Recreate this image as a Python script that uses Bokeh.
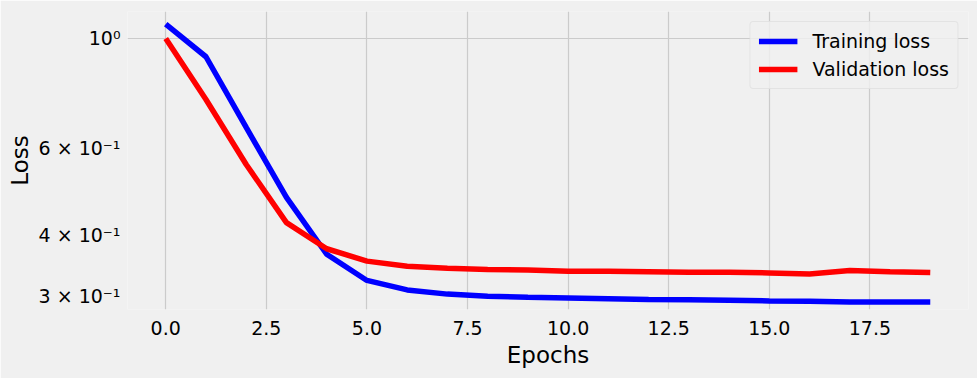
from bokeh.plotting import figure
from bokeh.models import FixedTicker, CustomJSTickFormatter, PrintfTickFormatter, Range1d, Legend, LegendItem
from bokeh.embed import file_html
from bokeh.resources import INLINE

epochs = list(range(20))
training_loss = [1.069, 0.918, 0.660, 0.476, 0.365, 0.323, 0.309, 0.303, 0.300, 0.2985,
                 0.2975, 0.2965, 0.2955, 0.295, 0.2945, 0.2935, 0.2930, 0.2920, 0.2922, 0.2920]
validation_loss = [1.000, 0.752, 0.555, 0.423, 0.3745, 0.3535, 0.345, 0.342, 0.340, 0.339,
                   0.337, 0.337, 0.3365, 0.3355, 0.3355, 0.3345, 0.333, 0.3385, 0.3365, 0.335]
x_ticks = [0, 2.5, 5, 7.5, 10, 12.5, 15, 17.5]
y_ticks = [0.3, 0.4, 0.6, 1.0]
y_tick_labels = ["3 × 10⁻¹", "4 × 10⁻¹", "6 × 10⁻¹", "10⁰"]

BG = "#f0f0f0"
FONT = "DejaVu Sans"

p = figure(width=977, height=378, output_backend="svg", toolbar_location=None,
           y_axis_type="log", frame_width=841, frame_height=298,
           x_range=Range1d(-0.95, 19.95), y_range=Range1d(0.282, 1.134),
           min_border_left=127, min_border_top=11, min_border_right=9, min_border_bottom=69)
p.background_fill_color = BG
p.border_fill_color = BG
p.outline_line_color = None

r1 = p.line(epochs, training_loss, line_color="blue", line_width=5.5)
r2 = p.line(epochs, validation_loss, line_color="red", line_width=5.5)

p.xaxis.ticker = FixedTicker(ticks=x_ticks)
p.xaxis.formatter = PrintfTickFormatter(format="%.1f")
p.yaxis.ticker = FixedTicker(ticks=y_ticks)
mapping = ", ".join(f'"{t:.1f}": "{l}"' for t, l in zip(y_ticks, y_tick_labels))
p.yaxis.formatter = CustomJSTickFormatter(code="const m = {" + mapping + "}; return m[tick.toFixed(1)] || '';")

for ax in (p.xaxis, p.yaxis):
    ax.axis_line_color = None
    ax.major_tick_line_color = None
    ax.minor_tick_line_color = None
    ax.major_tick_out = 0
    ax.major_tick_in = 0
    ax.minor_tick_out = 0
    ax.minor_tick_in = 0
    ax.major_label_text_font = FONT
    ax.major_label_text_font_size = "19px"
    ax.major_label_text_color = "black"
    ax.axis_label_text_font = FONT
    ax.axis_label_text_font_size = "23px"
    ax.axis_label_text_font_style = "normal"
    ax.axis_label_text_color = "black"

p.xaxis.axis_label = "Epochs"
p.yaxis.axis_label = "Loss"
p.xaxis.major_label_standoff = 11
p.yaxis.major_label_standoff = 7
p.xaxis.axis_label_standoff = 4
p.yaxis.axis_label_standoff = 3

p.xgrid.ticker = FixedTicker(ticks=x_ticks)
p.ygrid.ticker = FixedTicker(ticks=[1.0])
p.grid.grid_line_color = "#cbcbcb"
p.grid.grid_line_width = 1.2

legend = Legend(items=[LegendItem(label="Training loss", renderers=[r1]),
                       LegendItem(label="Validation loss", renderers=[r2])],
                location="top_right")
legend.label_text_font = FONT
legend.label_text_font_size = "19px"
legend.label_text_color = "black"
legend.glyph_width = 39
legend.glyph_height = 20
legend.label_height = 20
legend.label_standoff = 15
legend.spacing = 6
legend.padding = 8
legend.margin = 10
legend.background_fill_color = BG
legend.background_fill_alpha = 0.8
legend.border_line_color = "#d6d6d6"
legend.border_line_width = 1
legend.border_radius = 4
p.add_layout(legend)

open("out.html", "w").write(file_html(p, INLINE))
